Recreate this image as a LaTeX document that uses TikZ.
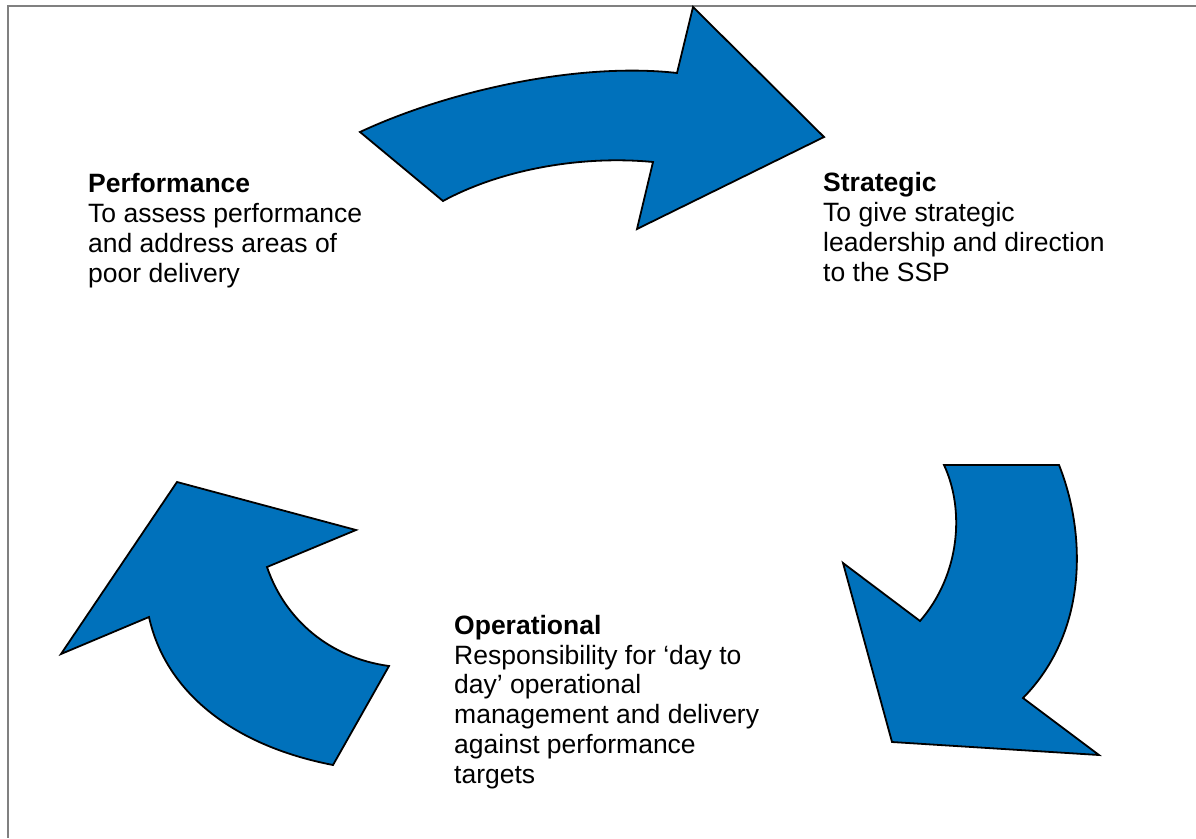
\documentclass[tikz,border=0pt]{standalone}
\usepackage{fontspec}
\setmainfont{Liberation Sans}
\definecolor{arrowblue}{HTML}{0071BB}
\definecolor{framegrey}{HTML}{808080}
\tikzset{
  bigarrow/.style={fill=arrowblue, draw=black, line width=1.8pt, line join=miter},
  label/.style={anchor=base west, inner sep=0pt, align=left,
    font=\fontsize{26.5}{29.7}\selectfont},
  frameline/.style={draw=framegrey, line width=2.4pt}
}
\begin{document}
\begin{tikzpicture}[x=1pt,y=-1pt]
\useasboundingbox (0,0) rectangle (1196,838);
% frame (top and left edges only)
\coordinate (fTR) at (1196,6);
\coordinate (fTL) at (8,6);
\coordinate (fBL) at (8,838);
\draw[frameline] (fTR) -- (fTL) -- (fBL);

% top arrow (Performance -> Strategic)
\draw[bigarrow] (360,132) .. controls (450,90) and (580,62) .. (677,73)
  -- (693,7) -- (824,137) -- (637,229) -- (653,162)
  .. controls (580,155) and (500,170) .. (443,201) -- cycle;

% right arrow (Strategic -> Operational)
\draw[bigarrow] (944,465) -- (1059,465)
  .. controls (1085,530) and (1090,630) .. (1023,698)
  -- (1099,755) -- (892,742) -- (843,563) -- (920,621)
  .. controls (960,575) and (965,510) .. (944,465) -- cycle;

% left arrow (Operational -> Performance)
\draw[bigarrow] (177,482) -- (356,530) -- (267,567)
  .. controls (285,620) and (330,658) .. (389,666)
  -- (333,765)
  .. controls (230,745) and (165,690) .. (149,617)
  -- (61,654) -- cycle;

% base anchor = baseline of the last line
\node[label] (perf) at (88,282) {\textbf{Performance}\\To assess performance\\and address areas of\\poor delivery};
\node[label] (strat) at (823,281) {\textbf{Strategic}\\To give strategic\\leadership and direction\\to the SSP};
\node[label] (oper) at (454,783) {\textbf{Operational}\\Responsibility for ‘day to\\day’ operational\\management and delivery\\against performance\\targets};
\end{tikzpicture}
\end{document}
